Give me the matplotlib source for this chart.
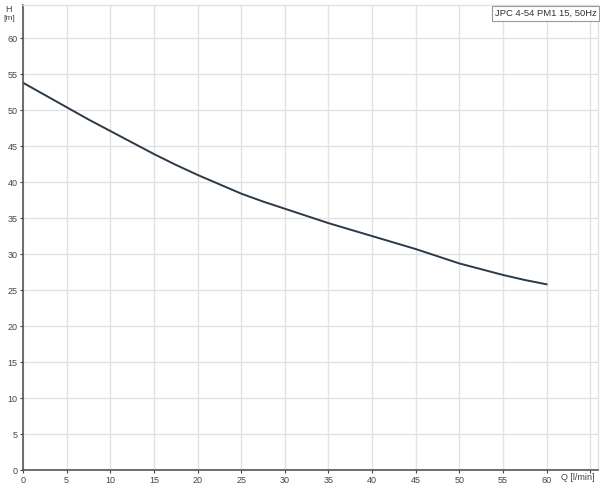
import matplotlib
matplotlib.use("Agg")
import matplotlib.pyplot as plt

q = [0, 2.5, 5, 7.5, 10, 12.5, 15, 17.5, 20, 22.5, 25, 27.5, 30,
     32.5, 35, 37.5, 40, 42.5, 45, 47.5, 50, 52.5, 55, 57.5, 60]
h = [53.8, 52.1, 50.4, 48.7, 47.1, 45.5, 43.9, 42.4, 41.0, 39.7, 38.4, 37.3, 36.3,
     35.3, 34.3, 33.4, 32.5, 31.6, 30.7, 29.7, 28.7, 27.9, 27.1, 26.4, 25.8]
x_ticks = [0, 5, 10, 15, 20, 25, 30, 35, 40, 45, 50, 55, 60, 65]
x_labels = ["0", "5", "10", "15", "20", "25", "30", "35", "40", "45", "50", "55", "60", ""]
y_ticks = [0, 5, 10, 15, 20, 25, 30, 35, 40, 45, 50, 55, 60]
legend_text = "JPC 4-54 PM1 15, 50Hz"

plt.rcParams['font.family'] = ['Liberation Sans', 'DejaVu Sans']
fig = plt.figure(figsize=(6.0, 4.91), dpi=100)
ax = fig.add_axes([23/600, 21/491, 575/600, 465/491])
ax.plot(q, h, color="#2c3a48", lw=1.4, solid_joinstyle="round")
ax.set_xlim(0, 65.9)
ax.set_ylim(0, 64.6)
ax.set_xticks(x_ticks)
ax.set_xticklabels(x_labels)
ax.set_yticks(y_ticks)
ax.grid(True, color="#e2e2e2", lw=1.0)
ax.set_axisbelow(True)
ax.tick_params(labelsize=6.5, colors="#444444", length=2, width=0.8, pad=2)
for s in ["left", "bottom"]:
    ax.spines[s].set_color("#555555")
    ax.spines[s].set_linewidth(1.2)
for s in ["top", "right"]:
    ax.spines[s].set_color("#e2e2e2")
    ax.spines[s].set_linewidth(1.0)

fig.text(5/600, 1 - 9/491, "H", fontsize=6.5, color="#444444", va="center", ha="left")
fig.text(3/600, 1 - 19/491, "[m]", fontsize=6, color="#444444", va="center", ha="left")
fig.text(595/600, 1 - 478/491, "Q [l/min]", fontsize=6.5, color="#444444", va="center", ha="right")
ax.text(0.997, 0.992, legend_text, transform=ax.transAxes, fontsize=6.8, color="#333333",
        ha="right", va="top",
        bbox=dict(boxstyle="square,pad=0.3", fc="white", ec="#999999", lw=0.8))

fig.savefig("out.png", dpi=100)
